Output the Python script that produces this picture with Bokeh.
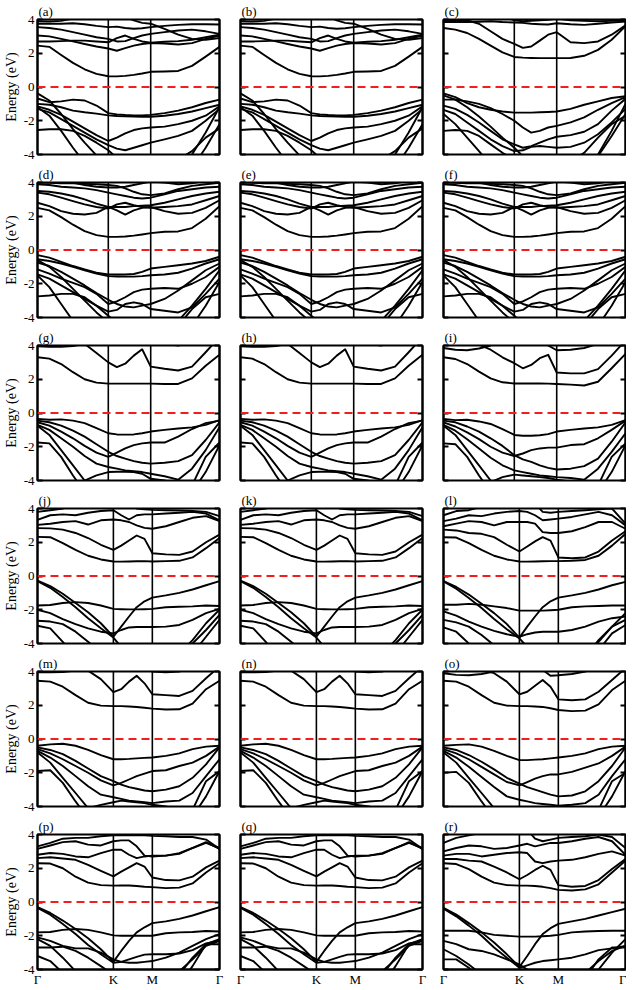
from bokeh.plotting import figure
from bokeh.layouts import column, row
from bokeh.models import Span, FixedTicker, LinearAxis, Range1d
from bokeh.embed import file_html
from bokeh.resources import INLINE

FONT = "Liberation Serif"

# ---------------- k-path (fraction of path length) ----------------
hs_labels = ["Γ", "K", "M", "Γ"]
hs_top = [0.0, 0.389, 0.622, 1.0]      # rows (a)-(i)
hs_bottom = [0.0, 0.417, 0.631, 1.0]   # rows (j)-(r)
k_top = [0.0, 0.065, 0.13, 0.195, 0.259, 0.324, 0.389, 0.436, 0.482, 0.529,
         0.575, 0.622, 0.698, 0.773, 0.849, 0.924, 1.0]
k_bottom = [0.0, 0.07, 0.139, 0.209, 0.278, 0.348, 0.417, 0.46, 0.503, 0.545,
            0.588, 0.631, 0.705, 0.779, 0.852, 0.926, 1.0]
energy_ticks = [-4, -2, 0, 2, 4]
energy_labels = ["-4", "-2", "0", "2", "4"]
panel_labels = ["(a)", "(b)", "(c)", "(d)", "(e)", "(f)", "(g)", "(h)", "(i)",
                "(j)", "(k)", "(l)", "(m)", "(n)", "(o)", "(p)", "(q)", "(r)"]

# ---------------- bands (eV) ----------------
bands_a = [
    [2.45, 2.38, 1.9, 1.43, 1.05, 0.78, 0.64, 0.63, 0.66, 0.72, 0.8, 0.9, 0.92, 0.95, 1.25, 1.8, 2.38],
    [3.05, 3.0, 2.85, 2.7, 2.55, 2.4, 2.28, 2.15, 2.3, 2.45, 2.55, 2.6, 2.58, 2.52, 2.6, 2.85, 3.05],
    [2.7, 2.7, 2.72, 2.75, 2.75, 2.7, 2.65, 2.9, 3.05, 2.85, 2.7, 2.62, 2.68, 2.72, 2.8, 2.95, 3.1],
    [3.55, 3.5, 3.4, 3.25, 3.1, 2.95, 2.85, 2.7, 2.72, 2.9, 3.05, 3.15, 3.25, 3.35, 3.4, 3.3, 3.15],
    [3.75, 3.75, 3.75, 3.78, 3.72, 3.62, 3.55, 3.58, 3.5, 3.45, 3.48, 3.55, 3.62, 3.68, 3.72, 3.72, 3.7],
    [3.9, 3.88, 3.92, 4.05, 4.3, 4.5, 4.6, 4.4, 4.15, 3.95, 3.8, 3.75, 3.45, 3.1, 2.85, 2.8, 2.9],
    [-0.38, -0.8, -1.6, -2.5, -3.3, -4.05, -4.6, -4.8, -4.8, -4.8, -4.8, -4.8, -4.8, -4.7, -4.0, -2.7, -1.2],
    [-0.68, -0.9, -0.85, -0.75, -0.8, -1.1, -1.55, -1.62, -1.66, -1.68, -1.68, -1.65, -1.55, -1.4, -1.2, -0.95, -0.75],
    [-1.0, -1.05, -1.2, -1.4, -1.5, -1.58, -1.68, -1.72, -1.74, -1.75, -1.76, -1.76, -1.7, -1.6, -1.45, -1.25, -1.05],
    [-1.3, -1.5, -1.9, -2.3, -2.7, -3.1, -3.45, -3.65, -3.75, -3.6, -3.45, -3.3, -3.1, -2.9, -2.6, -2.0, -1.3],
    [-1.15, -1.35, -1.65, -2.05, -2.45, -2.85, -3.2, -3.0, -2.75, -2.55, -2.45, -2.4, -2.35, -2.2, -2.0, -1.7, -1.15],
    [-2.55, -2.5, -2.5, -2.6, -2.9, -3.3, -3.75, -4.2, -4.6, -4.7, -4.7, -4.6, -4.5, -4.3, -3.8, -3.0, -2.45],
    [-1.2, -1.7, -2.6, -3.6, -4.5, -4.9, -5.0, -5.0, -5.0, -5.0, -5.0, -5.0, -5.0, -5.0, -4.8, -3.6, -2.2],
]
bands_b = bands_a

bands_c = [
    [3.5, 3.4, 3.2, 2.85, 2.45, 2.05, 1.78, 1.74, 1.72, 1.71, 1.71, 1.71, 1.72, 1.85, 2.2, 2.8, 3.6],
    [4.2, 4.1, 3.95, 3.75, 3.3, 2.85, 2.55, 2.32, 2.4, 2.75, 3.1, 3.25, 2.65, 2.6, 2.7, 3.1, 3.65],
    [3.85, 3.85, 3.85, 3.87, 3.9, 3.85, 3.82, 3.8, 3.75, 3.72, 3.7, 3.78, 3.72, 3.68, 3.75, 3.82, 3.88],
    [3.95, 3.95, 3.97, 4.1, 4.3, 4.2, 3.95, 3.9, 3.93, 3.95, 3.98, 4.05, 3.95, 3.92, 3.9, 3.92, 3.95],
    [-0.38, -0.6, -0.95, -1.2, -1.35, -1.45, -1.52, -1.52, -1.52, -1.5, -1.48, -1.45, -1.3, -1.05, -0.85, -0.65, -0.55],
    [-0.5, -0.75, -1.2, -1.75, -2.35, -3.0, -3.6, -4.1, -4.6, -4.8, -4.8, -4.8, -4.8, -4.7, -4.1, -2.9, -1.6],
    [-0.75, -0.75, -0.85, -1.0, -1.25, -1.6, -2.0, -2.4, -2.7, -2.6, -2.4, -2.3, -2.1, -1.8, -1.35, -0.95, -0.6],
    [-1.1, -1.3, -1.65, -2.1, -2.6, -3.1, -3.4, -3.6, -3.5, -3.3, -3.1, -2.95, -2.85, -2.65, -2.2, -1.4, -0.7],
    [-1.35, -1.6, -2.1, -2.6, -3.1, -3.5, -3.8, -3.75, -3.55, -3.5, -3.55, -3.6, -3.55, -3.3, -2.8, -2.1, -1.3],
    [-2.6, -2.55, -2.6, -2.9, -3.4, -3.9, -4.3, -4.6, -4.7, -4.7, -4.7, -4.6, -4.4, -3.9, -3.0, -2.2, -1.7],
    [-1.6, -2.2, -3.0, -3.8, -4.6, -5.0, -5.0, -5.0, -5.0, -5.0, -5.0, -5.0, -5.0, -4.9, -4.0, -2.6, -1.0],
]

bands_d = [
    [2.5, 2.35, 1.95, 1.5, 1.12, 0.88, 0.78, 0.78, 0.8, 0.85, 0.92, 1.0, 1.08, 1.1, 1.3, 1.85, 2.6],
    [2.8, 2.6, 2.3, 2.15, 2.1, 2.2, 2.55, 2.35, 2.1, 2.35, 2.5, 2.55, 2.3, 2.15, 2.2, 2.5, 2.95],
    [3.4, 3.3, 3.1, 2.9, 2.7, 2.55, 2.45, 2.7, 2.8, 2.65, 2.55, 2.5, 2.55, 2.6, 2.7, 2.95, 3.2],
    [3.5, 3.45, 3.35, 3.2, 3.0, 2.75, 2.55, 2.55, 2.55, 2.6, 2.62, 2.65, 2.8, 3.0, 3.2, 3.35, 3.45],
    [3.9, 3.85, 3.75, 3.7, 3.65, 3.55, 3.4, 3.3, 3.2, 3.1, 3.05, 3.1, 3.3, 3.5, 3.6, 3.7, 3.75],
    [4.0, 3.98, 3.95, 3.95, 3.92, 3.9, 3.85, 3.8, 3.65, 3.45, 3.3, 3.25, 3.35, 3.6, 3.8, 3.9, 3.98],
    [4.5, 4.4, 4.2, 4.0, 3.85, 3.75, 3.7, 3.7, 3.75, 3.85, 3.95, 4.05, 4.0, 3.9, 3.95, 4.1, 4.3],
    [-0.3, -0.45, -0.7, -0.95, -1.15, -1.35, -1.45, -1.45, -1.45, -1.42, -1.3, -1.1, -1.0, -0.9, -0.8, -0.65, -0.4],
    [-0.55, -0.65, -0.8, -1.0, -1.2, -1.4, -1.55, -1.57, -1.58, -1.58, -1.55, -1.5, -1.45, -1.35, -1.1, -0.8, -0.55],
    [-0.75, -0.95, -1.3, -1.7, -2.1, -2.55, -2.95, -3.2, -3.35, -3.4, -3.3, -3.2, -2.9, -2.4, -1.8, -1.2, -0.8],
    [-0.6, -1.0, -1.6, -2.3, -3.0, -3.7, -4.3, -4.7, -4.9, -4.9, -4.9, -4.9, -4.8, -4.2, -3.3, -2.3, -1.2],
    [-1.15, -1.4, -1.7, -1.95, -2.2, -2.6, -3.2, -3.05, -2.8, -2.5, -2.35, -2.3, -2.25, -2.3, -2.0, -1.6, -1.0],
    [-1.45, -1.7, -2.1, -2.5, -2.9, -3.3, -3.65, -3.55, -3.2, -3.1, -3.2, -3.5, -3.6, -3.7, -3.4, -2.6, -1.7],
    [-2.75, -2.7, -2.6, -2.6, -2.8, -3.3, -3.9, -4.3, -4.7, -4.9, -4.9, -4.9, -4.9, -4.5, -3.5, -2.8, -2.6],
    [-1.5, -2.2, -3.2, -4.2, -5.0, -5.0, -5.0, -5.0, -5.0, -5.0, -5.0, -5.0, -5.0, -5.0, -4.5, -3.3, -1.9],
]
bands_e = bands_d
bands_f = bands_d

bands_g = [
    [3.3, 3.22, 2.9, 2.42, 2.0, 1.8, 1.74, 1.74, 1.74, 1.74, 1.74, 1.74, 1.72, 1.72, 2.05, 2.8, 3.45],
    [4.6, 4.5, 4.4, 4.3, 4.1, 3.55, 3.0, 2.72, 2.92, 3.4, 3.78, 2.75, 2.62, 2.52, 2.75, 3.6, 4.5],
    [3.95, 3.93, 3.93, 3.96, 4.1, 4.3, 4.5, 4.5, 4.5, 4.5, 4.5, 4.3, 4.1, 4.0, 4.2, 4.5, 4.6],
    [-0.35, -0.4, -0.38, -0.45, -0.6, -0.9, -1.2, -1.27, -1.28, -1.27, -1.2, -1.1, -1.0, -0.92, -0.85, -0.7, -0.42],
    [-0.45, -0.55, -0.75, -1.05, -1.4, -1.85, -2.3, -2.55, -2.7, -2.85, -2.95, -3.0, -2.95, -2.85, -2.5, -1.6, -0.55],
    [-0.55, -0.75, -1.1, -1.5, -1.95, -2.35, -2.6, -2.35, -2.1, -1.9, -1.8, -1.75, -1.75, -1.4, -0.95, -0.6, -0.45],
    [-0.7, -1.0, -1.5, -2.0, -2.55, -3.0, -3.2, -3.3, -3.4, -3.45, -3.5, -3.6, -3.75, -3.95, -3.3, -2.2, -0.85],
    [-0.75, -1.3, -2.2, -3.1, -4.0, -4.6, -5.0, -5.0, -5.0, -5.0, -5.0, -5.0, -5.0, -5.0, -4.7, -3.5, -1.9],
    [-1.75, -1.8, -2.6, -3.7, -4.7, -5.0, -5.0, -5.0, -5.0, -5.0, -5.0, -5.0, -5.0, -5.0, -4.3, -2.6, -1.75],
    [-4.6, -4.6, -4.5, -4.3, -4.0, -3.7, -3.5, -3.48, -3.48, -3.5, -3.6, -3.9, -4.0, -4.2, -4.6, -4.8, -4.8],
]
bands_h = bands_g

bands_i = [
    [3.3, 3.2, 2.9, 2.45, 2.05, 1.82, 1.75, 1.75, 1.75, 1.75, 1.74, 1.72, 1.68, 1.63, 1.85, 2.65, 3.5],
    [4.5, 4.4, 4.2, 4.05, 3.75, 3.3, 2.95, 2.65, 2.85, 3.25, 3.45, 2.4, 2.35, 2.35, 2.6, 3.4, 4.3],
    [3.85, 3.75, 3.72, 3.82, 4.0, 4.3, 4.5, 4.5, 4.5, 4.4, 4.0, 3.72, 3.75, 3.85, 4.1, 4.5, 4.6],
    [-0.35, -0.42, -0.4, -0.5, -0.65, -0.95, -1.3, -1.35, -1.35, -1.32, -1.25, -1.1, -1.0, -0.92, -0.85, -0.7, -0.42],
    [-0.45, -0.55, -0.8, -1.1, -1.5, -1.95, -2.5, -2.75, -2.9, -3.1, -3.25, -3.35, -3.3, -3.15, -2.7, -1.7, -0.55],
    [-0.55, -0.8, -1.15, -1.55, -2.0, -2.35, -2.55, -2.4, -2.2, -2.1, -2.05, -2.05, -1.9, -1.85, -1.5, -1.0, -0.45],
    [-0.7, -1.05, -1.55, -2.1, -2.65, -3.1, -3.4, -3.5, -3.6, -3.7, -3.75, -3.8, -3.85, -3.95, -3.3, -2.3, -1.2],
    [-0.75, -1.3, -2.2, -3.1, -4.0, -4.6, -5.0, -5.0, -5.0, -5.0, -5.0, -5.0, -5.0, -5.0, -4.7, -3.5, -1.9],
    [-1.8, -1.85, -2.6, -3.7, -4.7, -5.0, -5.0, -5.0, -5.0, -5.0, -5.0, -5.0, -5.0, -5.0, -4.3, -2.6, -1.8],
    [-4.6, -4.6, -4.5, -4.3, -4.1, -3.8, -3.65, -3.7, -3.75, -3.8, -3.85, -3.95, -4.05, -4.3, -4.6, -4.8, -4.8],
]

bands_j = [
    [2.32, 2.3, 1.95, 1.55, 1.2, 0.98, 0.86, 0.85, 0.86, 0.87, 0.88, 0.86, 0.88, 0.9, 1.1, 1.65, 2.25],
    [2.84, 2.82, 2.75, 2.55, 2.25, 1.85, 1.55, 1.8, 2.1, 2.4, 2.2, 1.35, 1.28, 1.25, 1.45, 2.0, 2.45],
    [3.03, 3.1, 3.2, 3.25, 3.05, 3.3, 3.35, 3.3, 3.2, 3.0, 2.85, 2.8, 2.95, 3.2, 3.45, 3.55, 3.25],
    [3.32, 3.6, 3.65, 3.6, 3.75, 3.85, 3.9, 3.6, 3.35, 3.6, 3.65, 3.65, 3.7, 3.75, 3.8, 3.7, 3.3],
    [3.8, 3.9, 4.0, 4.3, 4.5, 4.5, 4.5, 4.5, 4.4, 4.0, 3.95, 3.92, 3.9, 3.88, 3.85, 3.8, 3.55],
    [-0.28, -0.6, -1.05, -1.6, -2.15, -2.8, -3.6, -3.0, -2.4, -1.85, -1.5, -1.28, -1.15, -1.0, -0.8, -0.55, -0.3],
    [-0.3, -0.7, -1.25, -1.85, -2.5, -3.1, -3.65, -4.2, -4.6, -4.8, -4.9, -4.9, -4.9, -4.6, -3.8, -2.8, -2.0],
    [-1.75, -1.72, -1.6, -1.55, -1.6, -1.75, -1.95, -1.97, -1.98, -1.98, -1.97, -1.95, -1.85, -1.82, -1.8, -1.75, -1.78],
    [-2.0, -2.2, -2.55, -2.85, -3.1, -3.3, -3.4, -3.2, -3.05, -3.02, -3.02, -3.02, -3.0, -2.9, -2.6, -2.2, -1.95],
    [-2.65, -2.7, -2.85, -3.3, -3.9, -4.5, -5.0, -5.0, -5.0, -5.0, -5.0, -5.0, -5.0, -4.8, -4.0, -3.2, -2.3],
    [-2.95, -3.1, -3.9, -4.8, -5.0, -5.0, -5.0, -5.0, -5.0, -5.0, -5.0, -5.0, -5.0, -5.0, -4.6, -3.6, -2.6],
]
bands_k = bands_j

bands_l = [
    [2.3, 2.28, 1.95, 1.55, 1.2, 0.98, 0.86, 0.85, 0.86, 0.87, 0.88, 0.88, 0.9, 0.95, 1.2, 1.8, 2.5],
    [2.75, 2.7, 2.55, 2.5, 2.3, 1.85, 1.45, 1.75, 2.05, 2.3, 2.1, 1.1, 1.05, 1.1, 1.45, 2.1, 2.65],
    [2.95, 3.1, 3.25, 3.2, 3.0, 3.2, 3.2, 3.2, 3.1, 2.6, 2.55, 2.55, 2.65, 2.9, 3.2, 3.2, 2.8],
    [3.25, 3.4, 3.6, 3.55, 3.7, 3.8, 3.85, 3.8, 3.6, 3.3, 3.35, 3.4, 3.5, 3.65, 3.8, 3.6, 3.0],
    [3.6, 3.85, 3.9, 4.1, 4.3, 4.5, 4.5, 4.5, 4.3, 3.8, 3.75, 3.8, 3.85, 3.9, 3.95, 4.0, 3.1],
    [-0.3, -0.65, -1.1, -1.65, -2.2, -2.85, -3.65, -3.0, -2.4, -1.85, -1.5, -1.28, -1.15, -1.0, -0.8, -0.55, -0.35],
    [-0.32, -0.75, -1.3, -1.9, -2.55, -3.15, -3.7, -4.2, -4.6, -4.8, -4.9, -4.9, -4.9, -4.6, -3.9, -3.0, -2.2],
    [-1.7, -1.7, -1.65, -1.7, -1.8, -1.9, -2.05, -2.05, -2.05, -2.05, -2.03, -2.0, -1.85, -1.8, -1.78, -1.75, -1.75],
    [-2.1, -2.35, -2.7, -3.0, -3.25, -3.45, -3.6, -3.45, -3.35, -3.3, -3.3, -3.3, -3.2, -3.0, -2.7, -2.5, -2.4],
    [-2.6, -2.75, -3.0, -3.5, -4.1, -4.6, -5.0, -5.0, -5.0, -5.0, -5.0, -5.0, -5.0, -4.8, -3.8, -3.0, -2.6],
    [-3.05, -3.3, -4.0, -4.8, -5.0, -5.0, -5.0, -5.0, -5.0, -5.0, -5.0, -5.0, -5.0, -5.0, -4.4, -3.4, -2.9],
]

bands_m = [
    [3.45, 3.4, 3.1, 2.6, 2.15, 1.98, 1.95, 1.95, 1.93, 1.9, 1.85, 1.8, 1.75, 1.76, 2.1, 2.95, 3.45],
    [4.6, 4.5, 4.4, 4.25, 4.05, 3.55, 2.78, 2.95, 3.4, 3.75, 3.3, 2.65, 2.6, 2.55, 2.85, 3.6, 4.3],
    [3.95, 3.95, 3.97, 4.05, 4.3, 4.5, 4.6, 4.6, 4.6, 4.6, 4.5, 4.0, 3.95, 4.0, 4.3, 4.6, 4.6],
    [-0.4, -0.32, -0.28, -0.4, -0.65, -0.95, -1.2, -1.2, -1.18, -1.15, -1.12, -1.1, -1.0, -0.85, -0.6, -0.45, -0.4],
    [-0.5, -0.65, -0.9, -1.3, -1.75, -2.2, -2.5, -2.7, -2.85, -2.95, -3.05, -3.1, -3.0, -2.8, -2.3, -1.5, -0.5],
    [-0.6, -0.85, -1.2, -1.6, -2.0, -2.45, -2.75, -2.6, -2.4, -2.2, -2.05, -1.9, -1.85, -1.6, -1.4, -1.0, -0.45],
    [-0.7, -1.1, -1.6, -2.2, -2.8, -3.3, -3.45, -3.55, -3.65, -3.7, -3.75, -3.8, -3.7, -3.65, -3.2, -2.2, -1.2],
    [-0.8, -1.4, -2.3, -3.2, -4.1, -4.7, -5.0, -5.0, -5.0, -5.0, -5.0, -5.0, -5.0, -5.0, -4.6, -3.4, -1.9],
    [-1.9, -1.85, -2.6, -3.7, -4.7, -5.0, -5.0, -5.0, -5.0, -5.0, -5.0, -5.0, -5.0, -5.0, -4.2, -2.5, -1.9],
    [-4.6, -4.6, -4.5, -4.3, -4.1, -3.9, -3.75, -3.65, -3.7, -3.75, -3.8, -3.9, -4.0, -4.2, -4.6, -4.8, -4.8],
]
bands_n = bands_m

bands_o = [
    [3.45, 3.4, 3.1, 2.6, 2.15, 1.98, 1.95, 1.95, 1.93, 1.9, 1.82, 1.72, 1.65, 1.68, 2.05, 2.9, 3.45],
    [4.5, 4.4, 4.3, 4.1, 3.9, 3.4, 2.65, 2.8, 3.15, 3.5, 3.1, 2.35, 2.3, 2.35, 2.8, 3.5, 4.2],
    [3.9, 3.8, 3.78, 3.85, 4.0, 4.4, 4.6, 4.6, 4.5, 4.1, 3.75, 3.78, 3.85, 4.0, 4.3, 4.6, 4.6],
    [-0.4, -0.35, -0.32, -0.45, -0.7, -1.0, -1.25, -1.25, -1.22, -1.2, -1.15, -1.1, -1.0, -0.85, -0.6, -0.45, -0.4],
    [-0.5, -0.65, -0.95, -1.35, -1.8, -2.3, -2.65, -2.85, -3.0, -3.15, -3.3, -3.4, -3.35, -3.1, -2.5, -1.6, -0.5],
    [-0.6, -0.85, -1.2, -1.65, -2.1, -2.55, -2.75, -2.55, -2.35, -2.2, -2.1, -2.1, -1.95, -1.7, -1.45, -1.0, -0.45],
    [-0.7, -1.1, -1.65, -2.25, -2.85, -3.4, -3.6, -3.7, -3.8, -3.85, -3.9, -3.95, -3.9, -3.8, -3.3, -2.2, -1.2],
    [-0.8, -1.4, -2.3, -3.2, -4.1, -4.7, -5.0, -5.0, -5.0, -5.0, -5.0, -5.0, -5.0, -5.0, -4.6, -3.4, -1.9],
    [-2.0, -1.95, -2.6, -3.7, -4.7, -5.0, -5.0, -5.0, -5.0, -5.0, -5.0, -5.0, -5.0, -5.0, -4.2, -2.5, -2.0],
]

bands_p = [
    [2.3, 2.28, 2.0, 1.5, 1.15, 1.0, 0.97, 0.98, 0.98, 0.95, 0.9, 0.88, 0.82, 0.85, 1.1, 1.75, 2.3],
    [2.6, 2.65, 2.58, 2.5, 2.2, 1.85, 1.52, 1.8, 2.05, 2.3, 2.1, 1.45, 1.3, 1.28, 1.5, 2.05, 2.45],
    [2.8, 2.9, 2.85, 2.7, 2.65, 2.9, 3.1, 3.1, 2.8, 2.6, 2.7, 2.75, 2.75, 2.85, 3.2, 3.5, 3.2],
    [3.15, 3.35, 3.55, 3.6, 3.4, 3.35, 3.6, 3.65, 3.65, 3.3, 2.75, 2.7, 2.75, 2.9, 3.2, 3.55, 3.15],
    [3.3, 3.5, 3.75, 3.8, 3.8, 3.9, 3.95, 3.95, 3.95, 3.95, 3.95, 3.92, 3.9, 3.85, 3.85, 3.7, 3.15],
    [-0.3, -0.65, -1.1, -1.6, -2.15, -2.8, -3.55, -2.9, -2.3, -1.8, -1.5, -1.25, -1.15, -1.0, -0.8, -0.55, -0.3],
    [-0.35, -0.75, -1.3, -1.9, -2.55, -3.1, -3.6, -3.55, -3.4, -3.25, -3.12, -3.1, -3.1, -3.05, -2.85, -2.45, -2.3],
    [-1.8, -1.78, -1.65, -1.6, -1.65, -1.8, -1.98, -2.0, -2.0, -2.0, -2.0, -2.0, -1.85, -1.8, -1.78, -1.72, -1.75],
    [-2.1, -2.3, -2.6, -2.75, -2.75, -3.0, -3.4, -3.55, -3.6, -3.6, -3.55, -3.5, -3.3, -3.0, -2.6, -2.2, -1.9],
    [-2.7, -2.7, -2.65, -2.9, -3.3, -3.8, -4.3, -4.6, -4.8, -4.8, -4.8, -4.8, -4.6, -4.1, -3.4, -2.6, -2.3],
    [-3.2, -3.5, -4.2, -4.9, -5.0, -5.0, -5.0, -5.0, -5.0, -5.0, -5.0, -5.0, -5.0, -4.3, -3.3, -2.5, -2.5],
    [-2.2, -2.6, -3.3, -4.1, -4.9, -5.0, -5.0, -5.0, -5.0, -5.0, -5.0, -5.0, -5.0, -4.9, -3.8, -2.5, -2.2],
]
bands_q = bands_p

bands_r = [
    [2.3, 2.25, 1.95, 1.5, 1.15, 1.0, 0.97, 0.97, 0.95, 0.9, 0.82, 0.72, 0.68, 0.75, 1.05, 1.75, 2.45],
    [2.55, 2.55, 2.45, 2.4, 2.1, 1.75, 1.35, 1.6, 1.9, 2.15, 1.9, 1.0, 0.9, 0.95, 1.3, 1.95, 2.55],
    [2.75, 2.85, 2.85, 2.7, 2.8, 2.9, 2.95, 2.9, 2.4, 2.3, 2.4, 2.45, 2.5, 2.65, 2.85, 3.0, 2.75],
    [3.0, 3.2, 3.35, 3.3, 3.15, 3.2, 3.35, 3.45, 3.3, 3.4, 3.5, 3.5, 3.6, 3.75, 3.85, 3.6, 2.8],
    [3.5, 3.8, 3.95, 4.1, 4.3, 4.4, 4.5, 4.3, 3.75, 3.6, 3.7, 3.8, 3.85, 3.9, 4.0, 3.85, 3.2],
    [-0.35, -0.75, -1.25, -1.8, -2.4, -3.1, -3.85, -3.2, -2.5, -1.9, -1.55, -1.3, -1.15, -1.0, -0.8, -0.6, -0.4],
    [-0.4, -0.85, -1.4, -2.0, -2.7, -3.3, -3.9, -3.75, -3.6, -3.5, -3.45, -3.4, -3.3, -3.1, -2.85, -2.75, -2.6],
    [-1.7, -1.7, -1.7, -1.8, -1.95, -2.0, -2.05, -2.05, -2.05, -2.03, -2.0, -1.95, -1.8, -1.75, -1.72, -1.7, -1.7],
    [-2.3, -2.5, -2.8, -2.9, -3.1, -3.4, -3.7, -4.0, -4.3, -4.6, -4.8, -4.8, -4.6, -4.2, -3.5, -2.9, -2.6],
    [-2.8, -3.2, -3.7, -4.3, -4.9, -5.0, -5.0, -5.0, -5.0, -5.0, -5.0, -5.0, -5.0, -4.9, -4.0, -3.0, -2.2],
    [-3.4, -3.4, -3.9, -4.6, -5.0, -5.0, -5.0, -5.0, -5.0, -5.0, -5.0, -5.0, -5.0, -4.5, -3.4, -2.7, -2.7],
]

all_bands = [bands_a, bands_b, bands_c, bands_d, bands_e, bands_f,
             bands_g, bands_h, bands_i, bands_j, bands_k, bands_l,
             bands_m, bands_n, bands_o, bands_p, bands_q, bands_r]

# ---------------- layout ----------------
FRAME_W, FRAME_H = 182, 135
BORDER_L = [32, 11, 11]
BORDER_R = [10, 10, 1]


def style_y_axis(ax, show):
    ax.ticker = FixedTicker(ticks=energy_ticks)
    ax.major_tick_in = 5
    ax.major_tick_out = 0
    ax.minor_tick_line_color = None
    ax.major_tick_line_width = 2
    ax.axis_line_width = 2
    ax.axis_line_color = "black"
    ax.major_tick_line_color = "black"
    ax.major_label_text_font = FONT
    ax.major_label_text_font_size = "13px"
    ax.major_label_text_color = "black"
    ax.major_label_standoff = 3 if show else 0
    if show:
        ax.major_label_overrides = dict(zip(energy_ticks, energy_labels))
    else:
        ax.major_label_overrides = {t: "" for t in energy_ticks}


def make_panel(idx):
    r, c = divmod(idx, 3)
    kg = k_top if r < 3 else k_bottom
    hs = hs_top if r < 3 else hs_bottom
    last = (r == 5)
    p = figure(frame_width=FRAME_W, frame_height=FRAME_H,
               x_range=Range1d(0, 1), y_range=Range1d(-4, 4),
               output_backend="svg", toolbar_location=None,
               min_border_left=BORDER_L[c], min_border_right=BORDER_R[c],
               min_border_top=15, min_border_bottom=17 if last else 9)
    p.title.text = panel_labels[idx]
    p.title.text_font = FONT
    p.title.text_font_size = "13px"
    p.title.text_font_style = "normal"
    p.title.text_color = "black"
    p.title.align = "left"
    p.title.offset = 1
    p.title.standoff = 2
    p.grid.visible = False
    p.outline_line_color = "black"
    p.outline_line_width = 2
    p.background_fill_color = "white"
    p.border_fill_color = "white"

    style_y_axis(p.yaxis[0], c == 0)
    if c == 0:
        p.yaxis.axis_label = "Energy (eV)"
        p.yaxis.axis_label_text_font = FONT
        p.yaxis.axis_label_text_font_style = "normal"
        p.yaxis.axis_label_text_font_size = "14px"
        p.yaxis.axis_label_text_color = "black"
        p.yaxis.axis_label_standoff = 2
    right = LinearAxis()
    style_y_axis(right, False)
    p.add_layout(right, "right")

    if last:
        xa = p.xaxis[0]
        xa.ticker = FixedTicker(ticks=hs)
        xa.major_label_overrides = dict(zip(hs, hs_labels))
        xa.major_tick_in = 0
        xa.major_tick_out = 0
        xa.minor_tick_line_color = None
        xa.axis_line_width = 2
        xa.axis_line_color = "black"
        xa.major_label_text_font = FONT
        xa.major_label_text_font_size = "13px"
        xa.major_label_text_color = "black"
        xa.major_label_standoff = 2
    else:
        p.xaxis.visible = False

    bands = all_bands[idx]
    p.multi_line(xs=[kg] * len(bands), ys=bands, line_color="black",
                 line_width=1.9, line_join="round")

    for x in hs[1:3]:
        p.add_layout(Span(location=x, dimension="height", line_color="black", line_width=1.6))
    p.add_layout(Span(location=0, dimension="width", line_color="#f01e1e",
                      line_width=2, line_dash="8 5"))
    return p


rows = []
for r in range(6):
    rows.append(row(*[make_panel(3 * r + c) for c in range(3)]))
layout = column(*rows)

open("out.html", "w").write(file_html(layout, INLINE))
